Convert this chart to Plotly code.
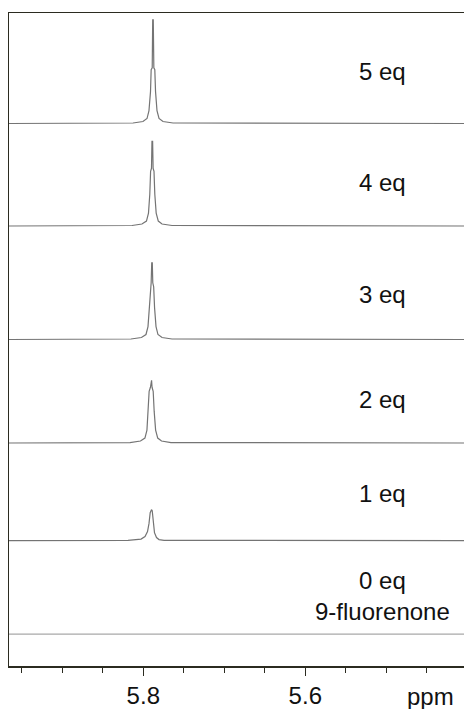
import plotly.graph_objects as go

# Stacked 1H NMR spectra (chemical shift in ppm, intensity in arbitrary units)
labels = ["5 eq", "4 eq", "3 eq", "2 eq", "1 eq", "0 eq<br>9-fluorenone"]
offsets = [545, 442, 328, 224, 126, 32]

ppm_5 = [5.9658, 5.8127, 5.8004, 5.7954, 5.7930, 5.7911, 5.7903, 5.7890, 5.7884,
         5.7877, 5.7870, 5.7858, 5.7849, 5.7831, 5.7806, 5.7757, 5.7633, 5.4041]
int_5 = [0, 0.5, 2, 5, 13, 32, 54, 56, 104, 104, 56, 54, 32, 13, 5, 2, 0.5, 0]

ppm_4 = [5.9658, 5.8139, 5.8017, 5.7961, 5.7936, 5.7920, 5.7910, 5.7899, 5.7893,
         5.7885, 5.7879, 5.7868, 5.7858, 5.7841, 5.7815, 5.7769, 5.7646, 5.4041]
int_4 = [0, 0.5, 2, 5, 13, 32, 55, 58, 85, 85, 58, 55, 32, 13, 5, 2, 0.5, 0]

ppm_3 = [5.9658, 5.8152, 5.8023, 5.7967, 5.7942, 5.7925, 5.7914, 5.7903, 5.7896,
         5.7889, 5.7883, 5.7872, 5.7861, 5.7843, 5.7819, 5.7769, 5.7646, 5.4041]
int_3 = [0, 0.5, 2, 5, 13, 32, 53, 57, 77, 77, 57, 53, 32, 13, 5, 2, 0.5, 0]

ppm_2 = [5.9658, 5.8164, 5.8035, 5.7980, 5.7955, 5.7938, 5.7928, 5.7912, 5.7905,
         5.7898, 5.7892, 5.7878, 5.7866, 5.7848, 5.7822, 5.7775, 5.7658, 5.4041]
int_2 = [0, 0.5, 2, 5, 13, 32, 52, 56, 63, 63, 56, 52, 32, 13, 5, 2, 0.5, 0]

ppm_1 = [5.9658, 5.8189, 5.8028, 5.7979, 5.7948, 5.7930, 5.7915, 5.7907, 5.7899,
         5.7890, 5.7880, 5.7862, 5.7837, 5.7806, 5.7744, 5.4041]
int_1 = [0, 0.3, 1.5, 4, 9, 17, 28, 31, 31, 30, 20, 8, 3, 1, 0.3, 0]

ppm_0 = [5.9658, 5.4041]
int_0 = [0, 0]

spectra = [(ppm_5, int_5), (ppm_4, int_4), (ppm_3, int_3),
           (ppm_2, int_2), (ppm_1, int_1), (ppm_0, int_0)]
line_colors = ["#747474"] * 5 + ["#a8a8a8"]

# label positions (ppm, intensity axis)
label_x = 5.5053
label_y = [597, 486, 373, 268, 173, 70]

major_ticks = [5.8, 5.6]
major_text = ["5.8", "5.6"]
minor_ticks = [5.95, 5.90, 5.85, 5.80, 5.75, 5.70, 5.65, 5.60, 5.55, 5.50, 5.45]

fig = go.Figure()
for (px, iy), off, col in zip(spectra, offsets, line_colors):
    fig.add_trace(go.Scatter(
        x=px, y=[off + v for v in iy], mode="lines",
        line=dict(color=col, width=1.2), hoverinfo="skip", showlegend=False))

font_family = "Liberation Sans, Arial, sans-serif"
for lab, ly in zip(labels, label_y):
    fig.add_annotation(x=label_x, y=ly, text=lab, showarrow=False,
                       xanchor="center", yanchor="middle",
                       font=dict(family=font_family, size=24, color="#111111"))

fig.add_annotation(x=5.446, xref="x", y=0, yref="paper", yshift=-30,
                   text="ppm", showarrow=False,
                   xanchor="center", yanchor="middle",
                   font=dict(family=font_family, size=24, color="#111111"))

axis_color = "#2b2b20"
fig.update_layout(
    width=464, height=709,
    margin=dict(l=9, r=0, t=13, b=40),
    paper_bgcolor="white", plot_bgcolor="white",
    xaxis=dict(range=[5.9658, 5.4041], showgrid=False, zeroline=False,
               showline=True, mirror=True, linecolor=axis_color, linewidth=1.5,
               ticks="outside", ticklen=8, tickwidth=1, tickcolor=axis_color,
               tickvals=major_ticks, ticktext=major_text,
               tickfont=dict(family=font_family, size=24, color="#111111"),
               minor=dict(tickvals=minor_ticks, ticks="outside", ticklen=5,
                          tickwidth=1, tickcolor=axis_color, showgrid=False)),
    yaxis=dict(range=[0, 656], showgrid=False, zeroline=False,
               showline=True, linecolor=axis_color, linewidth=1,
               showticklabels=False, ticks=""),
)

# remove the default 8px page margin so the figure sits at the window origin
fig.write_html("out.html",
               config={"displayModeBar": False, "staticPlot": True},
               post_script="document.body.style.margin='0';"
                           "document.body.style.overflow='hidden';")
